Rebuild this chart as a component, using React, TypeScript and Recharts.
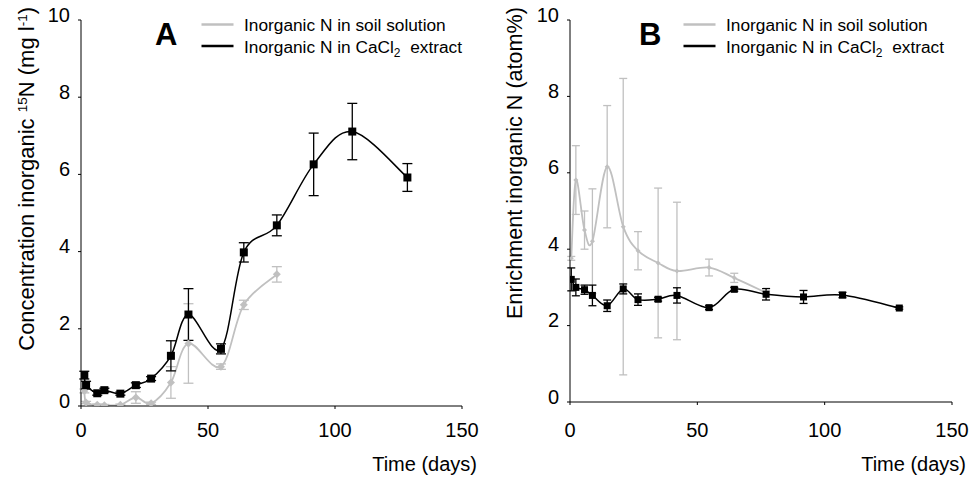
import React from 'react';
import { LineChart, Line, XAxis, YAxis, ErrorBar } from 'recharts';

// ---------- data ----------
const daysA = [1.3, 2, 6.4, 9.2, 15.5, 21.6, 27.6, 35.4, 42.3, 55.1, 64.1, 77.1, 91.6, 106.8, 128.5];
const cacl2A = [0.8, 0.54, 0.33, 0.41, 0.32, 0.54, 0.71, 1.3, 2.37, 1.48, 3.98, 4.68, 6.26, 7.11, 5.92];
const cacl2AErr = [0.1, 0.1, 0.05, 0.05, 0.04, 0.06, 0.05, 0.39, 0.67, 0.13, 0.25, 0.27, 0.81, 0.73, 0.36];
const soilA = [0.39, 0.09, 0.03, 0.02, 0.03, 0.22, 0.07, 0.61, 1.62, 1.02, 2.62, 3.41];
const soilAErr = [0.05, 0.03, 0.02, 0.02, 0.02, 0.15, 0.03, 0.41, 1.03, 0.07, 0.12, 0.2];

const daysB = [0.5, 2.3, 5.7, 8.8, 14.6, 20.9, 26.7, 34.6, 42, 54.6, 64.5, 77, 91.7, 107, 129.3];
const cacl2B = [3.21, 3.0, 2.94, 2.79, 2.52, 2.96, 2.68, 2.69, 2.79, 2.47, 2.95, 2.82, 2.75, 2.8, 2.46];
const cacl2BErr = [0.3, 0.22, 0.12, 0.27, 0.15, 0.13, 0.15, 0.05, 0.2, 0.05, 0.05, 0.15, 0.17, 0.07, 0.03];
const soilB = [3.76, 5.81, 4.5, 4.21, 6.16, 4.59, 3.96, 3.64, 3.43, 3.52, 3.25, 2.86];
const soilBErr = [0.05, 0.9, 0.5, 1.37, 1.6, 3.88, 0.5, 1.96, 1.8, 0.22, 0.12, 0.05];

const xTicks = [0, 50, 100, 150];
const yTicks = [0, 2, 4, 6, 8, 10];
const legendSoil = 'Inorganic N in soil solution';
const legendCacl = 'Inorganic N in CaCl';

const FONT = '"Liberation Sans", Arial, sans-serif';
const GRAY = '#c0c0c0';

const build = (days: number[], vals: number[], errs: number[]) =>
  vals.map((v, i) => ({ day: days[i], v, e: errs[i] }));

// Excel-like smoothed line (Catmull-Rom Bezier, control x clamped to segment)
const smoothCurve = (context: any) => {
  let pts: [number, number][] = [];
  return {
    areaStart() {},
    areaEnd() {},
    lineStart() {
      pts = [];
    },
    point(x: number, y: number) {
      pts.push([+x, +y]);
    },
    lineEnd() {
      if (!pts.length) return;
      context.moveTo(pts[0][0], pts[0][1]);
      for (let i = 0; i < pts.length - 1; i++) {
        const p0 = pts[i - 1] || pts[i];
        const p1 = pts[i];
        const p2 = pts[i + 1];
        const p3 = pts[i + 2] || pts[i + 1];
        let c1x = p1[0] + (p2[0] - p0[0]) / 6;
        const c1y = p1[1] + (p2[1] - p0[1]) / 6;
        let c2x = p2[0] - (p3[0] - p1[0]) / 6;
        const c2y = p2[1] - (p3[1] - p1[1]) / 6;
        c1x = Math.min(Math.max(c1x, p1[0]), p2[0]);
        c2x = Math.min(Math.max(c2x, p1[0]), p2[0]);
        context.bezierCurveTo(c1x, c1y, c2x, c2y, p2[0], p2[1]);
      }
    },
  };
};

const squareDot = (size: number, color: string) => (props: any) => {
  const { cx, cy, index } = props;
  if (cx == null || cy == null) return <g key={`s${index}`} />;
  return <rect key={`s${index}`} x={cx - size / 2} y={cy - size / 2} width={size} height={size} fill={color} />;
};
const diamondDot = (size: number, color: string) => (props: any) => {
  const { cx, cy, index } = props;
  if (cx == null || cy == null) return <g key={`d${index}`} />;
  const h = size / 2;
  return <polygon key={`d${index}`} points={`${cx},${cy - h} ${cx + h},${cy} ${cx},${cy + h} ${cx - h},${cy}`} fill={color} />;
};

const YTick = (props: any) => (
  <text x={props.x} y={props.y + 1.5} textAnchor="end" fontSize={20} fontFamily={FONT} fill="#000">
    {props.payload.value}
  </text>
);
const XTick = (props: any) => (
  <text x={props.x} y={props.y} textAnchor="middle" fontSize={20} fontFamily={FONT} fill="#000">
    {props.payload.value}
  </text>
);

type PanelProps = {
  left: number;
  width: number;
  margin: { top: number; right: number; bottom: number; left: number };
  xTickMargin: number;
  soil: { day: number; v: number; e: number }[];
  cacl: { day: number; v: number; e: number }[];
  sq: number;
  di: number;
  capB: number;
  capG: number;
};

const Panel = ({ left, width, margin, xTickMargin, soil, cacl, sq, di, capB, capG }: PanelProps) => (
  <div style={{ position: 'absolute', left, top: 0 }}>
    <LineChart width={width} height={477} margin={margin}>
      <XAxis
        type="number"
        dataKey="day"
        domain={[0, 150]}
        ticks={xTicks}
        height={30}
        tickSize={3}
        tickMargin={xTickMargin}
        stroke="#000"
        tick={XTick}
        allowDataOverflow
      />
      <YAxis
        type="number"
        domain={[0, 10]}
        ticks={yTicks}
        width={60}
        tickSize={3}
        tickMargin={8}
        stroke="#000"
        tick={YTick}
        allowDataOverflow
      />
      <Line
        data={soil}
        dataKey="v"
        type={smoothCurve as any}
        stroke={GRAY}
        strokeWidth={1.8}
        dot={diamondDot(di, GRAY)}
        activeDot={false}
        isAnimationActive={false}
      >
        <ErrorBar dataKey="e" direction="y" width={capG} stroke={GRAY} strokeWidth={1.3} />
      </Line>
      <Line
        data={cacl}
        dataKey="v"
        type={smoothCurve as any}
        stroke="#000"
        strokeWidth={1.5}
        dot={squareDot(sq, '#000')}
        activeDot={false}
        isAnimationActive={false}
      >
        <ErrorBar dataKey="e" direction="y" width={capB} stroke="#000" strokeWidth={1.3} />
      </Line>
    </LineChart>
  </div>
);

const Legend = ({ lineX, textX }: { lineX: number; textX: number }) => (
  <g fontFamily={FONT}>
    <line x1={lineX} x2={lineX + 32} y1={24.5} y2={24.5} stroke={GRAY} strokeWidth={2.5} />
    <line x1={lineX} x2={lineX + 32} y1={46} y2={46} stroke="#000" strokeWidth={2.5} />
    <text x={textX} y={30.7} fontSize={17.3} fill="#000">{legendSoil}</text>
    <text x={textX} y={52.7} fontSize={17.3} fill="#000">
      {legendCacl}
      <tspan dy={4} fontSize={12}>2</tspan>
      <tspan dy={-4} xmlSpace="preserve">{'  extract'}</tspan>
    </text>
  </g>
);

export default function App() {
  const soilDataA = build(daysA, soilA, soilAErr);
  const caclDataA = build(daysA, cacl2A, cacl2AErr);
  const soilDataB = build(daysB, soilB, soilBErr);
  const caclDataB = build(daysB, cacl2B, cacl2BErr);
  return (
    <div style={{ position: 'absolute', left: 0, top: 0, width: 971, height: 477, background: '#fff', overflow: 'hidden' }}>
      <Panel
        left={0}
        width={485}
        margin={{ top: 20, right: 23, bottom: 41, left: 21 }}
        xTickMargin={28}
        soil={soilDataA}
        cacl={caclDataA}
        sq={8}
        di={8}
        capB={5}
        capG={5}
      />
      <Panel
        left={485}
        width={486}
        margin={{ top: 20, right: 19, bottom: 45, left: 25 }}
        xTickMargin={32}
        soil={soilDataB}
        cacl={caclDataB}
        sq={7}
        di={5}
        capB={4}
        capG={4}
      />
      <svg width={971} height={477} style={{ position: 'absolute', left: 0, top: 0, pointerEvents: 'none' }}>
        <text transform="translate(33.5, 7) rotate(-90)" textAnchor="end" fontSize={22} fontFamily={FONT} fill="#000">
          Concentration inorganic <tspan dy={-7} fontSize={13.5}>15</tspan>
          <tspan dy={7}>N (mg l</tspan>
          <tspan dy={-7} fontSize={13.5}>-1</tspan>
          <tspan dy={7}>)</tspan>
        </text>
        <text transform="translate(522, 7) rotate(-90)" textAnchor="end" fontSize={21.6} fontFamily={FONT} fill="#000">
          Enrichment inorganic N (atom%)
        </text>
        <text x={477} y={471} textAnchor="end" fontSize={20} fontFamily={FONT} fill="#000">Time (days)</text>
        <text x={966} y={471} textAnchor="end" fontSize={20} fontFamily={FONT} fill="#000">Time (days)</text>
        <text x={155} y={45} fontSize={31} fontWeight="bold" fontFamily={FONT} fill="#000">A</text>
        <text x={639} y={45} fontSize={31} fontWeight="bold" fontFamily={FONT} fill="#000">B</text>
        <Legend lineX={201.5} textX={244} />
        <Legend lineX={683.5} textX={726} />
      </svg>
    </div>
  );
}
